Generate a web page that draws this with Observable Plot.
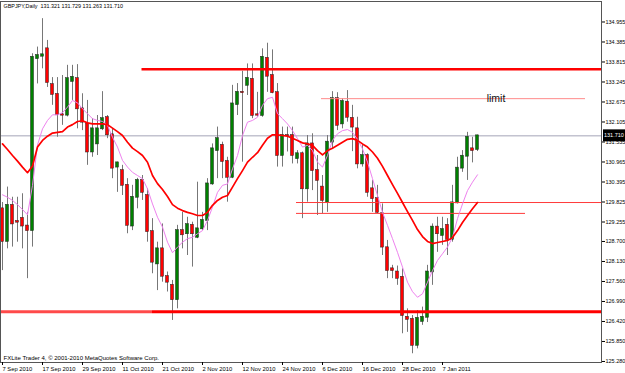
<!DOCTYPE html>
<html><head><meta charset="utf-8">
<script src="https://cdn.jsdelivr.net/npm/d3@7"></script>
<script src="https://cdn.jsdelivr.net/npm/@observablehq/plot@0.6"></script>
<style>
html,body{margin:0;padding:0;background:#fff;}
#chart svg{display:block;}
</style></head><body><div id="chart"></div>
<script>
// GBPJPY Daily, one entry per bar (bar 0 = 7 Sep 2010)
const symbol = "GBPJPY";
const timeframe = "Daily";
const opens = [129.63,128.70,129.73,129.27,129.36,129.14,129.01,133.91,133.98,134.19,
 133.17,132.89,132.31,132.30,133.26,133.34,132.48,132.05,131.25,131.48,
 131.91,132.23,131.74,130.82,130.72,130.30,129.14,129.96,130.44,130.01,
 128.98,128.06,128.49,127.70,127.45,127.04,129.01,128.92,129.16,128.82,
 129.06,129.30,130.34,131.29,131.44,130.98,130.53,132.60,132.95,133.15,
 133.32,132.31,132.29,133.92,133.43,132.94,131.15,131.72,131.72,131.06,
 131.20,130.20,131.48,130.72,130.25,129.82,131.53,132.77,132.05,132.67,
 132.21,131.91,130.91,131.15,130.20,129.92,129.49,128.52,127.92,127.83,
 127.68,126.54,126.48,125.74,126.42,126.54,127.83,129.11,128.87,129.16,
 128.76,129.80,130.79,131.13,131.34,131.321];
const highs = [129.81,130.25,129.96,129.96,130.06,129.53,134.05,134.24,135.05,134.43,
 133.37,133.37,133.43,133.72,133.72,133.74,132.91,132.72,132.20,132.29,
 132.97,132.29,131.91,130.96,130.87,130.49,130.30,130.50,130.58,130.20,
 129.35,128.68,129.20,127.83,127.59,129.16,129.53,129.39,129.25,130.39,
 129.53,130.49,131.48,131.96,131.53,131.10,133.15,133.20,133.55,133.76,
 133.76,132.95,134.19,134.35,134.16,133.20,131.96,131.96,131.96,131.29,
 131.25,131.72,131.77,131.15,130.58,131.72,132.97,132.94,132.77,133.00,
 132.58,132.24,131.44,131.20,130.44,130.30,129.77,128.73,128.02,128.00,
 127.92,126.78,126.59,126.73,126.83,128.02,129.20,129.39,129.39,129.35,
 130.30,131.10,131.29,131.81,131.67,131.729];
const lows = [127.87,128.49,128.54,128.68,128.49,127.64,128.54,133.19,133.62,133.09,
 132.58,131.67,132.01,132.25,132.72,131.91,131.86,130.87,131.10,131.15,
 131.86,131.63,130.49,130.10,130.01,128.92,129.01,129.63,129.87,128.68,
 127.78,127.30,127.54,127.26,126.45,126.78,128.49,128.30,127.97,128.78,
 129.01,129.01,130.30,130.49,130.49,129.82,130.49,132.29,130.96,132.86,
 132.20,132.24,132.24,132.95,132.91,130.82,130.82,131.25,130.91,130.91,
 129.35,129.82,130.15,129.44,129.49,129.53,131.34,131.86,131.91,132.10,
 131.26,130.77,130.82,129.96,129.53,129.50,128.30,127.64,127.64,127.45,
 126.07,126.11,125.50,125.64,126.31,126.39,127.45,128.39,128.59,128.30,
 128.68,129.77,130.67,130.44,130.94,131.263];
const closes = [128.70,129.73,129.20,129.25,129.14,129.01,133.95,134.00,134.02,133.23,
 132.89,132.31,132.30,133.34,133.38,132.48,132.10,131.25,131.91,131.91,
 132.20,131.74,130.79,130.94,130.30,129.16,129.96,130.44,130.10,128.98,
 128.11,128.49,127.71,127.54,127.04,129.01,128.89,129.18,128.92,129.06,
 129.30,130.34,131.34,131.63,130.98,130.53,132.62,132.95,132.94,133.35,
 132.29,132.30,133.95,133.41,132.94,131.15,131.72,131.71,131.15,131.20,
 130.20,131.48,130.72,130.44,129.87,131.53,132.77,132.01,132.69,132.24,
 131.96,130.91,131.15,130.10,129.92,129.53,128.54,127.87,127.87,127.65,
 126.59,126.48,125.74,126.51,126.54,127.83,129.11,128.92,129.04,128.76,
 129.80,130.79,131.13,131.67,131.29,131.710];
// moving averages (thick red, thin violet)
const maSlow = [131.48,131.32,131.15,130.99,130.82,130.66,130.85,131.39,131.58,131.70,
 131.79,131.81,131.83,131.96,132.03,132.12,132.14,132.08,132.05,132.05,
 132.05,132.03,131.93,131.83,131.72,131.53,131.36,131.26,131.15,130.96,
 130.58,130.35,130.18,129.98,129.75,129.65,129.58,129.53,129.49,129.44,
 129.44,129.53,129.73,129.87,129.96,130.01,130.25,130.49,130.72,130.96,
 131.10,131.23,131.44,131.64,131.74,131.74,131.72,131.70,131.64,131.58,
 131.51,131.48,131.44,131.29,131.17,131.29,131.36,131.44,131.53,131.61,
 131.63,131.58,131.48,131.39,131.25,131.07,130.84,130.58,130.32,130.07,
 129.81,129.55,129.30,129.04,128.84,128.70,128.64,128.67,128.70,128.73,
 128.81,129.01,129.24,129.44,129.63,129.81];
const maFast = [130.03,129.96,129.87,129.75,129.61,129.46,130.30,131.45,131.91,132.15,
 132.31,132.31,132.37,132.53,132.72,132.65,132.48,132.34,132.20,132.15,
 132.12,132.01,131.67,131.39,131.01,130.82,130.67,130.58,130.49,130.20,
 129.77,129.39,129.11,128.68,128.38,128.54,128.68,128.78,128.82,128.92,
 129.01,129.30,129.68,130.10,130.30,130.34,130.77,131.15,131.72,132.10,
 132.15,132.24,132.58,132.77,132.81,132.34,132.20,132.05,131.86,131.63,
 131.39,131.44,131.29,130.96,130.82,131.15,131.58,131.77,131.86,131.89,
 131.81,131.61,131.34,130.96,130.49,130.01,129.53,129.16,128.78,128.39,
 127.97,127.54,127.27,127.11,127.21,127.54,127.87,128.16,128.35,128.54,
 128.82,129.35,129.77,130.15,130.39,130.60];
// x ticks: bar index and label
const xTickBars = [0,8,16,24,32,40,48,56,64,72,80,88];
const xTickLabels = ["7 Sep 2010","17 Sep 2010","29 Sep 2010","11 Oct 2010","21 Oct 2010","2 Nov 2010","12 Nov 2010","24 Nov 2010","6 Dec 2010","16 Dec 2010","28 Dec 2010","7 Jan 2011"];
const yTickLabels = ["134.955","134.385","133.815","133.245","132.675","132.105","131.535","130.965","130.395","129.825","129.255","128.700","128.130","127.560","126.990","126.420","125.850","125.280"];
// drawn horizontal levels: price, start bar, end bar
const levelPrices = [133.61, 132.77, 129.81, 129.50];
const levelFromBar = [27.9, 63.8, 58.8, 58.8];
const levelToBar = [119.8, 116.6, 119.8, 104.6];
const supportPrice = 126.70;
const supportBreakBar = 30;
const limitLabel = "limit";
const limitLabelBar = 98.7;
const copyright = "FXLite Trader 4, \u00a9 2001-2010 MetaQuotes Software Corp.";

const candles = opens.map((o, i) => ({i, open: o, high: highs[i], low: lows[i], close: closes[i]}));
const slow = maSlow.map((v, i) => ({i, v}));
const fast = maFast.map((v, i) => ({i, v}));
const last = candles[candles.length - 1];
const f3 = d3.format(".3f");
const header = `${symbol},${timeframe}  ${f3(last.open)} ${f3(last.high)} ${f3(last.low)} ${f3(last.close)}`;
const yTickVals = yTickLabels.map(Number);
const yLab = new Map(yTickVals.map((v, k) => [v, yTickLabels[k]]));
const xLab = new Map(xTickBars.map((v, k) => [v, xTickLabels[k]]));
const xMin = -0.4, xMax = 119.8;
const levelIdx = levelPrices.map((_, k) => k);
const levelColors = ["#ff0000", "#ff8a8a", "#ff3a3a", "#ff3a3a"];
const levelWidths = [2.5, 1, 1, 1];
const FONT = "'Liberation Sans', Arial, sans-serif";

const plot = Plot.plot({
  width: 625, height: 373,
  marginLeft: 0, marginRight: 24, marginTop: 1, marginBottom: 11,
  style: {background: "#fff", fontFamily: FONT, fontSize: "6px", color: "#000", overflow: "visible"},
  x: {type: "linear", domain: [xMin, xMax]},
  y: {type: "linear", domain: [125.251, 135.539]},
  marks: [
    Plot.ruleY([last.close], {stroke: "#a4a4b8", strokeWidth: 1}),
    Plot.ruleX(candles, {x: "i", y1: "low", y2: "high", stroke: "#777", strokeWidth: 1}),
    Plot.rect(candles, {
      x1: d => d.i - 0.3, x2: d => d.i + 0.3, y1: "open", y2: "close",
      insetTop: -0.5, insetBottom: -0.5,
      fill: d => d.close >= d.open ? "#008000" : "#ff0000",
      stroke: "#222", strokeWidth: 0.5
    }),
    Plot.ruleY([supportPrice], {x1: xMin, x2: supportBreakBar, stroke: "#ff4a4a", strokeWidth: 3}),
    Plot.ruleY([supportPrice], {x1: supportBreakBar, x2: xMax, stroke: "#ff0000", strokeWidth: 3}),
    Plot.ruleY(levelIdx, {
      y: k => levelPrices[k], x1: k => levelFromBar[k], x2: k => levelToBar[k],
      stroke: k => levelColors[k], strokeWidth: k => levelWidths[k]
    }),
    Plot.line(fast, {x: "i", y: "v", stroke: "#ee82ee", strokeWidth: 1}),
    Plot.line(slow, {x: "i", y: "v", stroke: "#ff0000", strokeWidth: 1.7}),
    Plot.text([limitLabel], {x: limitLabelBar, y: levelPrices[1], text: d => d, fontSize: 10.5, fill: "#111", fontFamily: FONT}),
    Plot.text([header], {frameAnchor: "top-left", dx: 3, dy: 3, lineAnchor: "top", textAnchor: "start", fontSize: 5.4, fill: "#000"}),
    Plot.text([copyright], {frameAnchor: "bottom-left", dx: 3, dy: -3, lineAnchor: "bottom", textAnchor: "start", fontSize: 6, fill: "#000"}),
    Plot.frame({stroke: "#555"}),
    Plot.axisY(yTickVals, {anchor: "right", tickSize: 3, tickPadding: 1, tickFormat: d => yLab.get(d), fontSize: 5.5, label: null}),
    Plot.axisX(xTickBars, {anchor: "bottom", tickSize: 3, tickPadding: 1, tickFormat: d => xLab.get(d), textAnchor: "start", fontSize: 5.8, label: null})
  ]
});
document.getElementById("chart").appendChild(plot);

// current price tag on the right axis
const yScale = plot.scale("y"), xScale = plot.scale("x");
const py = yScale.apply(last.close);
const px = xScale.range[1] + 2;
const g = d3.select(plot).append("g");
g.append("rect").attr("x", px).attr("y", py - 6).attr("width", 625 - px).attr("height", 12).attr("fill", "#000");
g.append("text").attr("x", px + 1).attr("y", py).attr("dy", "0.35em")
  .attr("text-anchor", "start")
  .style("fill", "#fff").style("font-size", "5.5px").style("font-family", FONT)
  .text(f3(last.close));
</script>
</body></html>
